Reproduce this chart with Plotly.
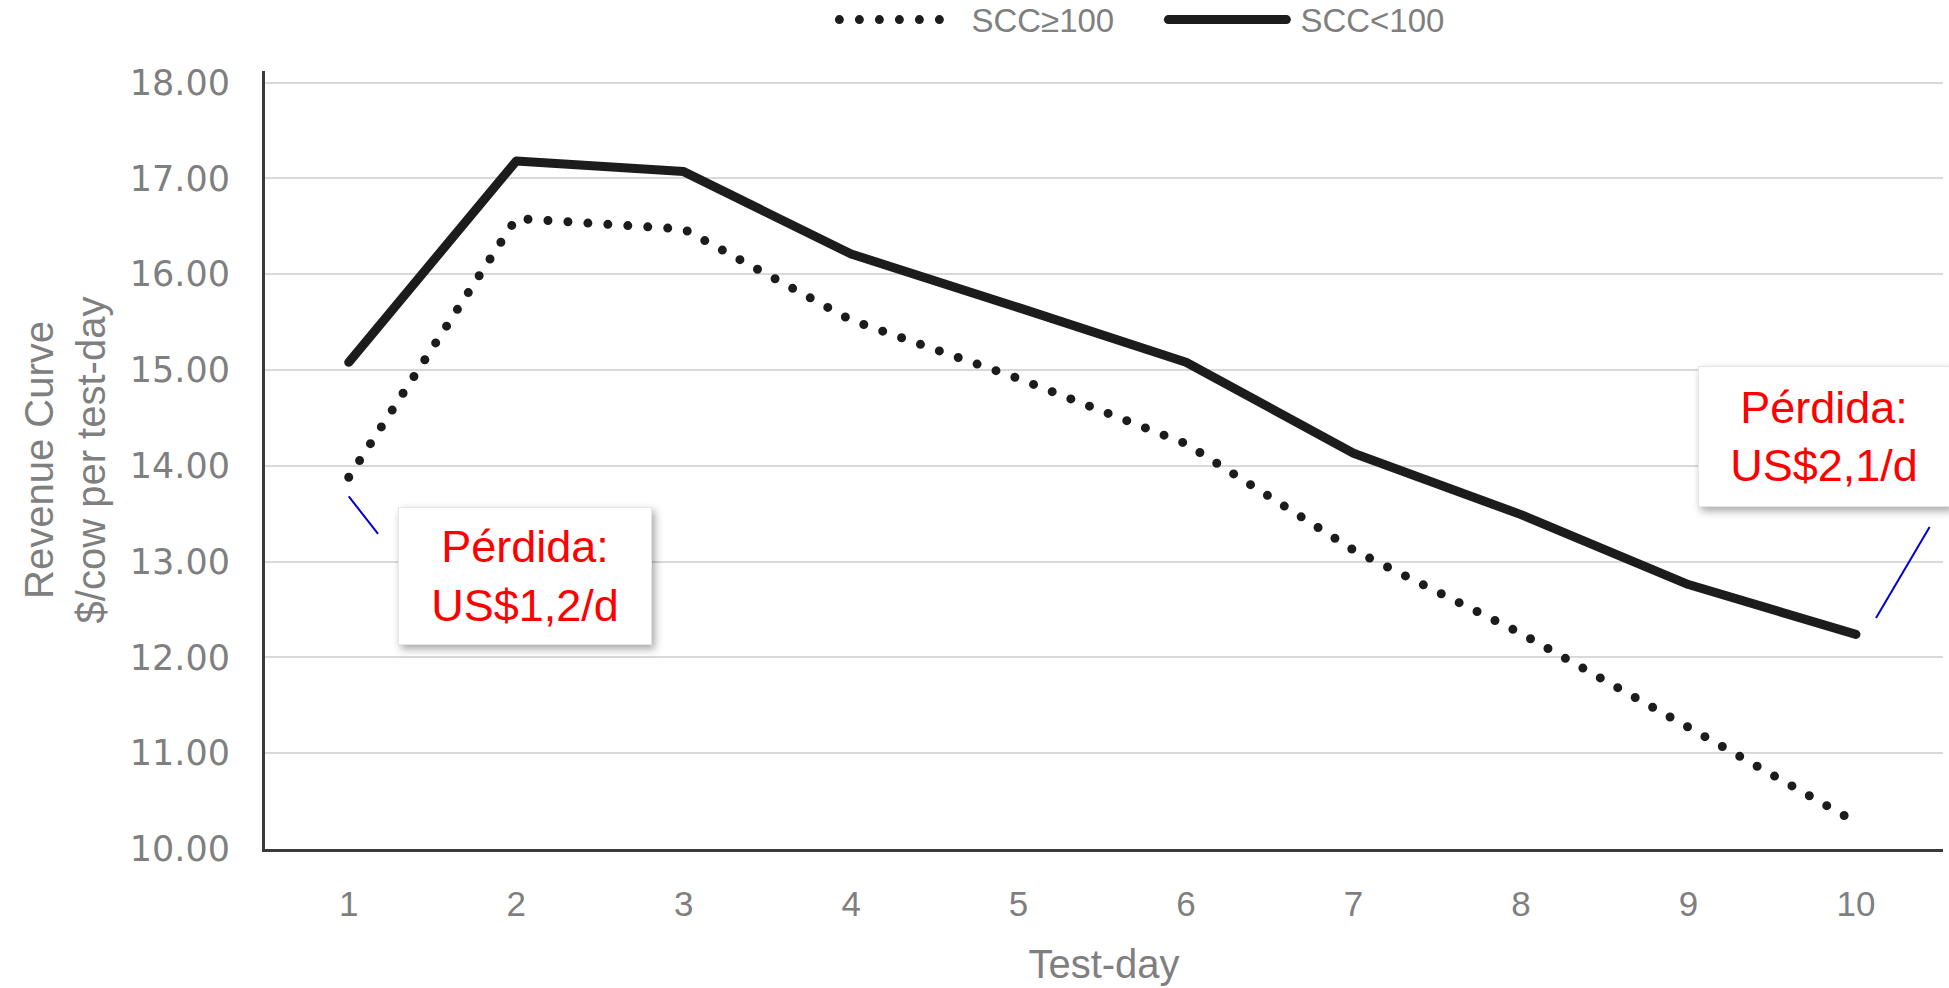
import plotly.graph_objects as go

test_days = [1, 2, 3, 4, 5, 6, 7, 8, 9, 10]
scc_high = [13.88, 16.58, 16.47, 15.52, 14.91, 14.23, 13.12, 12.25, 11.27, 10.28]
scc_low = [15.08, 17.18, 17.07, 16.21, 15.65, 15.08, 14.13, 13.49, 12.76, 12.24]
series_names = ["SCC≥100", "SCC<100"]
y_ticks = [10, 11, 12, 13, 14, 15, 16, 17, 18]
y_tick_labels = ["10.00", "11.00", "12.00", "13.00", "14.00", "15.00", "16.00", "17.00", "18.00"]
loss_labels = ["Pérdida:<br>US$1,2/d", "Pérdida:<br>US$2,1/d"]

GRAY = "#7f7f7f"

fig = go.Figure()
fig.add_trace(go.Scatter(
    x=test_days, y=scc_high, name=series_names[0], mode="lines",
    line=dict(color="#1c1c1c", width=9, dash="0px,20px"),
))
fig.add_trace(go.Scatter(
    x=test_days, y=scc_low, name=series_names[1], mode="lines",
    line=dict(color="#1c1c1c", width=9),
))

# callout leader lines
fig.add_shape(type="line", xref="x", yref="y", x0=1.0, y0=13.68, x1=1.175, y1=13.29,
              line=dict(color="#0000cc", width=2))
fig.add_shape(type="line", xref="x", yref="y", x0=10.12, y0=12.41, x1=10.44, y1=13.36,
              line=dict(color="#0000cc", width=2))

fig.add_annotation(x=2.05, y=12.85, xref="x", yref="y", text=loss_labels[0], showarrow=False,
                   font=dict(family="Liberation Sans, Arial, sans-serif", size=45, color="#ff0000"),
                   bgcolor="white", bordercolor="#e6e6e6", borderwidth=1, width=250, height=134)
fig.add_annotation(x=9.81, y=14.31, xref="x", yref="y", text=loss_labels[1], showarrow=False,
                   font=dict(family="Liberation Sans, Arial, sans-serif", size=45, color="#ff0000"),
                   bgcolor="white", bordercolor="#e6e6e6", borderwidth=1, width=248, height=137)

fig.update_layout(
    width=1949, height=988,
    margin=dict(l=265, r=6, t=71, b=139, autoexpand=False),
    paper_bgcolor="white", plot_bgcolor="white",
    showlegend=True,
    legend=dict(orientation="h", xref="paper", yref="paper", x=0.5336, y=1.066,
                xanchor="center", yanchor="middle",
                font=dict(family="Liberation Sans, Arial, sans-serif", size=33, color=GRAY),
                itemwidth=130, entrywidth=184, bgcolor="rgba(0,0,0,0)"),
    xaxis=dict(
        type="linear", range=[0.5, 10.52], tickmode="array", tickvals=test_days,
        ticktext=[str(d) for d in test_days], automargin=False,
        showgrid=False, zeroline=False, showline=True, linecolor="#3a3a3a", linewidth=3,
        ticks="", ticklabelstandoff=22,
        tickfont=dict(family="Liberation Sans Narrow, Arial Narrow, sans-serif", size=35, color=GRAY),
        title=dict(text="Test-day", standoff=28,
                   font=dict(family="Liberation Sans, Arial, sans-serif", size=40, color=GRAY)),
    ),
    yaxis=dict(
        range=[10, 18.12], tickmode="array", tickvals=y_ticks, ticktext=y_tick_labels,
        automargin=False,
        showgrid=True, gridcolor="#d9d9d9", gridwidth=2, zeroline=False,
        showline=True, linecolor="#3a3a3a", linewidth=3,
        ticks="", ticklabelstandoff=25,
        tickfont=dict(family="DejaVu Sans, Verdana, sans-serif", size=35, color=GRAY),
        title=dict(text="Revenue Curve<br>$/cow per test-day", standoff=12,
                   font=dict(family="Liberation Sans, Arial, sans-serif", size=40, color=GRAY)),
    ),
)

post = """
document.body.style.margin = '0';
var gd = document.getElementById('{plot_id}');
function fixStyle(){
  gd.querySelectorAll('path.js-line').forEach(function(p){ p.style.strokeLinecap='round'; p.style.strokeLinejoin='round'; });
  var lg = gd.querySelectorAll('.legend .legendlines path');
  if (lg.length > 0) lg[0].setAttribute('d', 'M8,0h102');
  if (lg.length > 1) lg[1].setAttribute('d', 'M8,0h118');
  gd.querySelectorAll('.annotation rect.bg').forEach(function(r){ r.style.filter='drop-shadow(3px 4px 4px rgba(0,0,0,0.35))'; });
}
fixStyle();
gd.on('plotly_afterplot', fixStyle);
"""

fig.write_html("out.html", post_script=post, config={"displayModeBar": False})
